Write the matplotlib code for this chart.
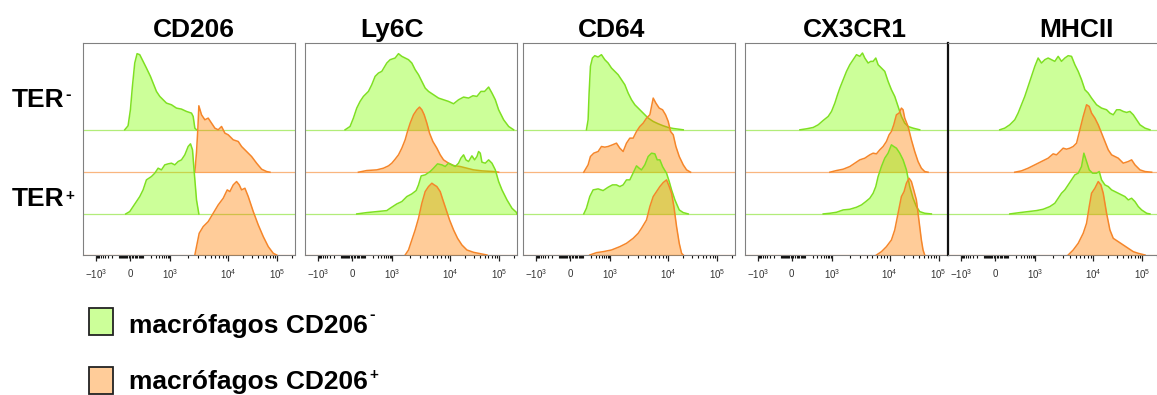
import numpy as np
import matplotlib.pyplot as plt
from matplotlib.patches import Rectangle

plt.rcParams['mathtext.fontset'] = 'custom'
plt.rcParams['mathtext.rm'] = 'Liberation Sans'
plt.rcParams['mathtext.it'] = 'Liberation Sans'
plt.rcParams['mathtext.bf'] = 'Liberation Sans:bold'

# histogram traces: (channel, height above the track baseline)
# channel axis is the display scale of the cytometer (0..635), see tick_pos
markers = ['CD206', 'Ly6C', 'CD64', 'CX3CR1', 'MHCII']
populations = ['TER- CD206-', 'TER- CD206+', 'TER+ CD206-', 'TER+ CD206+']

cd206_1 = [(125,0),(135,12),(142,60),(148,130),(155,200),(162,228),(170,225),(180,205),(190,185),(202,160),(212,135),(220,115),(230,100),(240,90),(250,80),(265,75),(280,65),(295,62),(310,55),(325,50),(330,40),(335,5),(340,0)]
cd206_2 = [(335,0),(340,60),(344,130),(347,199),(355,172),(365,157),(375,162),(385,147),(395,132),(405,127),(415,137),(425,117),(435,112),(450,97),(465,92),(475,77),(490,62),(505,47),(520,27),(535,9),(550,2),(560,0)]
cd206_3 = [(128,0),(140,7),(150,22),(160,37),(170,52),(180,72),(190,102),(205,112),(215,122),(225,137),(235,132),(245,147),(255,150),(265,152),(275,147),(285,157),(295,162),(305,177),(315,202),(322,210),(328,192),(333,127),(340,42),(347,0)]
cd206_4 = [(335,0),(340,25),(348,65),(360,85),(375,100),(390,125),(405,150),(420,170),(432,195),(440,190),(450,210),(460,220),(468,210),(475,195),(485,200),(495,175),(510,130),(525,90),(540,55),(555,25),(570,5),(580,0)]

ly6c_1 = [(120,0),(135,10),(145,35),(155,65),(165,85),(175,100),(190,115),(200,135),(210,160),(220,170),(230,175),(245,200),(255,210),(270,215),(280,228),(290,220),(300,215),(310,210),(320,200),(330,180),(340,165),(350,145),(360,125),(370,115),(385,105),(400,95),(415,90),(430,85),(445,78),(460,90),(475,98),(490,95),(503,102),(515,100),(527,115),(538,115),(550,128),(560,110),(570,90),(580,60),(595,30),(610,10),(625,0)]
ly6c_2 = [(160,0),(185,5),(215,7),(235,12),(250,19),(260,27),(270,39),(280,52),(290,72),(300,97),(307,122),(315,147),(325,172),(335,187),(343,195),(350,187),(357,172),(365,147),(373,117),(383,92),(395,72),(405,52),(415,37),(430,27),(445,20),(465,17),(485,12),(505,7),(530,4),(565,2),(580,0)]
ly6c_3 = [(155,0),(185,4),(215,7),(245,10),(255,17),(275,30),(290,37),(305,52),(320,60),(333,70),(340,87),(348,114),(360,117),(375,127),(385,137),(397,150),(410,147),(420,142),(430,152),(440,147),(450,142),(460,152),(467,167),(475,177),(482,162),(490,157),(500,174),(508,162),(515,172),(520,187),(525,182),(530,155),(540,152),(550,162),(560,152),(570,132),(580,97),(590,72),(605,42),(620,17),(633,5),(635,0)]
ly6c_4 = [(300,0),(310,15),(320,45),(330,75),(340,110),(350,155),(360,190),(370,205),(380,215),(387,210),(395,205),(405,190),(413,165),(423,135),(433,105),(445,75),(457,50),(470,30),(485,15),(505,8),(530,3),(545,0)]

cd64_1 = [(190,0),(195,30),(198,110),(202,190),(208,215),(215,222),(225,218),(235,225),(245,210),(255,200),(265,185),(275,175),(285,165),(295,150),(305,135),(315,110),(325,90),(335,75),(345,65),(355,55),(365,45),(375,35),(390,25),(405,18),(420,12),(435,7),(450,4),(465,2),(480,0)]
cd64_2 = [(182,0),(195,22),(202,47),(212,57),(225,62),(235,77),(245,75),(255,77),(268,82),(280,87),(290,72),(300,62),(310,87),(320,102),(330,102),(340,122),(350,137),(360,147),(370,162),(380,172),(385,197),(390,222),(398,207),(408,192),(418,187),(427,172),(435,152),(442,122),(450,112),(458,77),(468,47),(480,22),(490,7),(502,0)]
cd64_3 = [(182,0),(190,17),(200,52),(210,72),(225,75),(240,70),(255,80),(268,87),(280,87),(290,82),(300,87),(310,102),(320,102),(332,127),(340,144),(348,137),(355,132),(365,147),(375,172),(385,182),(395,180),(402,162),(410,162),(418,142),(425,130),(430,122),(438,97),(445,72),(455,42),(468,12),(480,4),(495,0)]
cd64_4 = [(200,0),(220,7),(240,10),(265,15),(290,25),(310,35),(330,50),(345,65),(355,80),(370,105),(380,145),(390,175),(400,190),(410,205),(420,217),(430,225),(438,205),(445,185),(452,145),(460,85),(468,35),(475,5),(480,0)]

cx3cr1_1 = [(165,0),(185,3),(205,7),(220,15),(235,28),(250,40),(260,55),(270,80),(278,105),(285,125),(295,150),(305,175),(315,195),(325,210),(335,225),(345,220),(353,230),(360,215),(370,200),(378,205),(385,205),(393,215),(400,195),(410,185),(420,175),(425,160),(430,145),(440,120),(450,100),(460,70),(470,40),(480,20),(490,10),(505,5),(525,0)]
cx3cr1_2 = [(255,0),(275,5),(295,9),(315,17),(330,27),(345,37),(360,42),(375,52),(385,57),(395,55),(405,67),(415,77),(425,92),(433,112),(440,122),(447,142),(455,172),(463,177),(470,192),(475,187),(480,162),(490,137),(500,97),(510,62),(520,32),(530,12),(540,2),(550,0)]
cx3cr1_3 = [(235,0),(255,2),(275,5),(295,12),(315,14),(335,20),(350,27),(363,37),(375,47),(385,62),(393,82),(400,112),(410,142),(420,167),(430,182),(440,207),(447,202),(455,197),(465,182),(475,162),(485,132),(495,82),(505,47),(515,22),(525,7),(540,2),(560,0)]
cx3cr1_4 = [(395,0),(410,10),(425,25),(440,45),(450,75),(460,125),(470,175),(478,190),(485,215),(493,230),(500,220),(507,195),(515,165),(520,125),(525,85),(530,45),(535,15),(540,0)]

mhcii_1 = [(155,0),(170,5),(185,15),(200,30),(210,50),(220,75),(230,100),(240,130),(250,160),(260,190),(270,215),(280,200),(290,210),(300,215),(310,210),(320,205),(330,220),(340,205),(350,215),(360,222),(370,220),(380,195),(390,175),(400,150),(410,120),(420,110),(430,95),(445,75),(460,65),(475,60),(485,50),(495,45),(505,60),(515,60),(525,55),(535,52),(545,55),(555,45),(565,30),(575,15),(590,5),(605,0)]
mhcii_2 = [(200,0),(220,4),(240,12),(260,22),(280,32),(300,42),(315,55),(325,52),(335,62),(345,72),(355,69),(365,72),(375,77),(385,87),(395,127),(405,167),(415,202),(423,197),(430,177),(440,162),(450,142),(460,117),(470,92),(480,67),(490,52),(500,47),(510,42),(525,27),(540,32),(550,37),(560,22),(575,7),(590,2),(610,0)]
mhcii_3 = [(185,0),(215,4),(240,7),(265,10),(285,14),(305,22),(320,32),(330,47),(340,62),(350,72),(360,87),(370,102),(380,117),(390,122),(400,142),(407,182),(415,157),(423,132),(433,122),(445,122),(453,127),(460,102),(470,87),(480,82),(490,72),(500,67),(510,62),(520,57),(530,52),(540,42),(550,47),(560,37),(570,22),(580,12),(595,2),(605,0)]
mhcii_4 = [(360,0),(375,15),(390,35),(405,65),(415,95),(423,145),(430,185),(440,200),(450,220),(458,210),(465,185),(475,125),(485,75),(495,50),(510,40),(525,30),(540,20),(555,10),(570,5),(590,0)]

traces = {
    'CD206': [cd206_1, cd206_2, cd206_3, cd206_4],
    'Ly6C': [ly6c_1, ly6c_2, ly6c_3, ly6c_4],
    'CD64': [cd64_1, cd64_2, cd64_3, cd64_4],
    'CX3CR1': [cx3cr1_1, cx3cr1_2, cx3cr1_3, cx3cr1_4],
    'MHCII': [mhcii_1, mhcii_2, mhcii_3, mhcii_4],
}

tick_pos = [38, 141, 262, 435, 582]
tick_labels = [r'$-10^3$', r'$0$', r'$10^3$', r'$10^4$', r'$10^5$']

W, H = 1157, 395
fig = plt.figure(figsize=(W / 100, H / 100), dpi=100)
renderer = fig.canvas.get_renderer()

def px_axes(left, top, width, height):
    return fig.add_axes([left / W, 1 - (top + height) / H, width / W, height / H])

def label_with_sup(x, base, main, sup, rise, size=19, sup_size=12):
    t = fig.text(x / W, 1 - base / H, main, va='baseline', fontsize=size,
                 fontweight='bold', family='Liberation Sans')
    x1 = t.get_window_extent(renderer).x1
    fig.text(x1 / W + 1 / W, 1 - (base - rise) / H, sup, va='baseline',
             fontsize=sup_size, fontweight='bold', family='Liberation Sans')

green_fill, green_line = '#80ff00', '#7fe022'
orange_fill, orange_line = '#ff8000', '#f5862a'
fills = [green_fill, orange_fill, green_fill, orange_fill]
lines = [green_line, orange_line, green_line, orange_line]
baselines = [375, 248, 123, 0]

# minor ticks like the cytometer axis
minor = []
for k in range(2):
    p0, p1 = tick_pos[2 + k], tick_pos[3 + k]
    minor += [p0 + np.log10(m) * (p1 - p0) for m in range(2, 10)]
minor += [tick_pos[4] + np.log10(m) * (tick_pos[4] - tick_pos[3]) for m in (2, 3)]
lin = np.r_[np.arange(10, 100, 10), np.arange(100, 1000, 100)]
frac = np.arcsinh(lin / 80) / np.arcsinh(1000 / 80)
minor += list(tick_pos[1] + frac * (tick_pos[2] - tick_pos[1]))
minor += list(tick_pos[1] - frac * (tick_pos[1] - tick_pos[0]))

panels = [(83, 212, 635, 194), (305, 212, 635, 392), (523, 212, 635, 612),
          (745, 204, 613, 855), (948, 212, 635, 1076)]

for name, (left, width, xmax, title_x) in zip(markers, panels):
    ax = px_axes(left, 43, width, 212)
    for i, tr in enumerate(traces[name]):
        x = np.array([p[0] for p in tr], float)
        h = np.array([p[1] for p in tr], float)
        b = baselines[i]
        ax.axhline(b, color=lines[i], lw=0.9, alpha=0.6, zorder=1)
        ax.fill_between(x, b, b + h, color=fills[i], alpha=0.4, lw=0, zorder=2 + i)
        ax.plot(x, b + h, color=lines[i], lw=1.1, zorder=2 + i)
    ax.set_xlim(0, xmax)
    ax.set_ylim(0, 635)
    ax.set_yticks([])
    ax.set_xticks(tick_pos)
    ax.set_xticklabels(tick_labels)
    ax.set_xticks([m for m in minor if 0 < m < xmax], minor=True)
    ax.tick_params(axis='x', which='major', length=4, width=0.9, color='#222',
                   labelsize=7, labelcolor='#333', pad=4.5)
    ax.tick_params(axis='x', which='minor', length=2.5, width=0.8, color='#111')
    for s in ax.spines.values():
        s.set_color('#808080')
        s.set_linewidth(0.8)
    ax.spines['right'].set_linestyle((0, (1, 1)))
    if name == 'CX3CR1':
        ax.spines['right'].set_visible(False)
    if name == 'MHCII':
        ax.spines['left'].set_color('#111111')
        ax.spines['left'].set_linewidth(1.6)
    fig.text(title_x / W, 1 - 37 / H, name, ha='center', va='baseline',
             fontsize=19, fontweight='bold', family='Liberation Sans')

label_with_sup(12, 107, 'TER', '-', 8)
label_with_sup(12, 206, 'TER', '+', 6, sup_size=11)

legend_labels = ['macrófagos CD206', 'macrófagos CD206']
legend_sups = ['-', '+']
for lab, sup, col, top, base, rise in zip(legend_labels, legend_sups,
                                          [green_fill, orange_fill], [308, 367],
                                          [333, 389], [14, 10]):
    fig.patches.append(Rectangle((89 / W, 1 - (top + 27) / H), 24 / W, 27 / H,
                                 transform=fig.transFigure, facecolor=col, alpha=0.4,
                                 edgecolor='none'))
    fig.patches.append(Rectangle((89 / W, 1 - (top + 27) / H), 24 / W, 27 / H,
                                 transform=fig.transFigure, facecolor='none',
                                 edgecolor='#222222', lw=1.3))
    label_with_sup(129, base, lab, sup, rise, sup_size=12 if sup == '-' else 11)

fig.savefig('out.png', dpi=100)
